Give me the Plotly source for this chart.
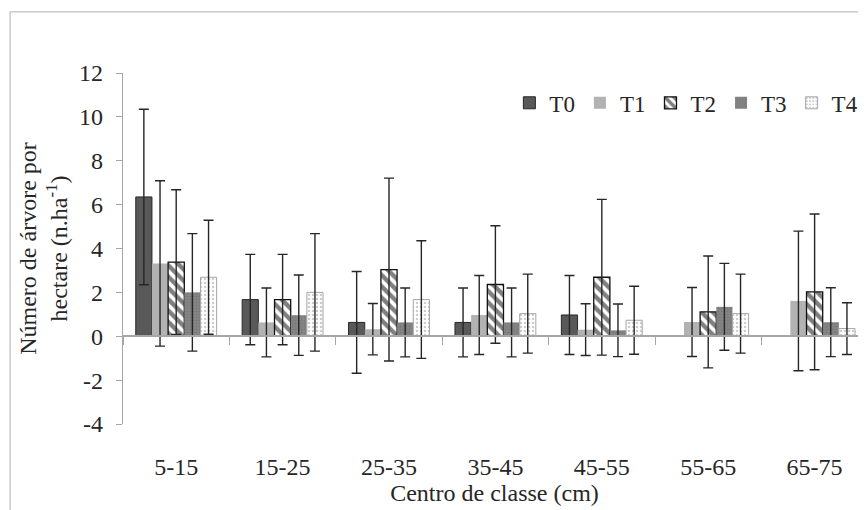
import plotly.graph_objects as go

categories = ["5-15", "15-25", "25-35", "35-45", "45-55", "55-65", "65-75"]
series_names = ["T0", "T1", "T2", "T3", "T4"]

T0 = [6.35, 1.67, 0.63, 0.63, 0.97, None, None]
T0_err = [4.0, 2.06, 2.32, 1.57, 1.8, None, None]
T1 = [3.32, 0.63, 0.32, 0.97, 0.30, 0.65, 1.61]
T1_err = [3.77, 1.57, 1.17, 1.8, 1.18, 1.57, 3.18]
T2 = [3.38, 1.67, 3.04, 2.36, 2.69, 1.11, 2.02]
T2_err = [3.3, 2.06, 4.17, 2.68, 3.55, 2.55, 3.55]
T3 = [2.0, 0.96, 0.63, 0.63, 0.27, 1.34, 0.64]
T3_err = [2.68, 1.83, 1.57, 1.57, 1.2, 1.98, 1.57]
T4 = [2.69, 2.0, 1.67, 1.03, 0.73, 1.03, 0.35]
T4_err = [2.6, 2.68, 2.68, 1.8, 1.55, 1.8, 1.18]

y_tickvals = [-4, -2, 0, 2, 4, 6, 8, 10, 12]
y_ticktext = ["-4", "-2", "0", "2", "4", "6", "8", "10", "12"]

FONT = "Liberation Serif"
TXT = "#262626"
AXC = "#a6a6a6"
FS = 24

styles = {
    "T0": dict(color="#595959", line=dict(color="#262626", width=1)),
    "T1": dict(color="#b2b2b2", line=dict(color="#b2b2b2", width=0)),
    "T2": dict(color="white", line=dict(color="#111111", width=1.3),
               pattern=dict(shape="\\", fgcolor="#000000", bgcolor="white",
                            size=8, solidity=0.55)),
    "T3": dict(color="#7f7f7f", line=dict(color="#7f7f7f", width=0),
               pattern=dict(shape=".", fgcolor="#6e6e6e", bgcolor="#858585",
                            size=3, solidity=0.4)),
    "T4": dict(color="white", line=dict(color="#a6a6a6", width=1),
               pattern=dict(shape=".", fgcolor="#999999", bgcolor="white",
                            size=4, solidity=0.3)),
}

values = [T0, T1, T2, T3, T4]
errors = [T0_err, T1_err, T2_err, T3_err, T4_err]

fig = go.Figure()
for name, vals, errs in zip(series_names, values, errors):
    fig.add_trace(go.Bar(
        name=name, x=categories, y=vals,
        marker=styles[name],
        error_y=dict(type="data", array=errs, visible=True,
                     color="#262626", thickness=1.4, width=5),
    ))

# axis line at y = 0 with boundary ticks
fig.add_trace(go.Scatter(
    x=categories, y=[0] * len(categories), xaxis="x2", mode="markers",
    marker=dict(opacity=0), showlegend=False, hoverinfo="skip"))

x_range = [-0.5, 6.483]

fig.update_layout(
    width=858, height=502,
    margin=dict(l=115, r=0, t=65, b=86, autoexpand=False),
    paper_bgcolor="white", plot_bgcolor="white",
    barmode="group", bargap=0.24, bargroupgap=0,
    font=dict(family=FONT, size=FS, color=TXT),
    showlegend=True,
    legend=dict(orientation="h", x=0.52, y=0.915, xanchor="left",
                yanchor="middle", font=dict(family=FONT, size=23, color=TXT),
                bgcolor="rgba(0,0,0,0)", itemwidth=30, tracegroupgap=0),
    xaxis=dict(type="category", categoryorder="array", categoryarray=categories,
               range=x_range, showline=False, ticks="",
               showgrid=False, zeroline=False, ticklabelstandoff=26,
               automargin=False,
               tickfont=dict(family=FONT, size=FS, color=TXT),
               title=dict(text="Centro de classe (cm)",
                          font=dict(family=FONT, size=FS, color=TXT),
                          standoff=2)),
    xaxis2=dict(type="category", overlaying="x", anchor="free",
                categoryorder="array", categoryarray=categories,
                range=x_range, position=0.25, showline=True, linecolor=AXC,
                linewidth=1.5, ticks="outside", tickson="boundaries",
                ticklen=8, tickcolor=AXC, tickwidth=1.2,
                showticklabels=False, showgrid=False, zeroline=False),
    yaxis=dict(range=[-4, 12], tickvals=y_tickvals, ticktext=y_ticktext,
               showline=True, linecolor=AXC, linewidth=1.2, ticks="outside",
               ticklen=6, tickcolor=AXC, showgrid=False, zeroline=False,
               ticklabelstandoff=8, automargin=False,
               tickfont=dict(family=FONT, size=FS, color=TXT),
               title=dict(text="Número de árvore por<br>hectare (n.ha<sup>-1</sup>)",
                          font=dict(family=FONT, size=FS, color=TXT),
                          standoff=4)),
    shapes=[dict(type="rect", xref="paper", yref="paper",
                 x0=-0.152, x1=1.05, y0=-0.4, y1=1.174,
                 line=dict(color="#bfbfbf", width=1.2),
                 fillcolor="rgba(0,0,0,0)", layer="below")],
)

fig.write_html("out.html")
